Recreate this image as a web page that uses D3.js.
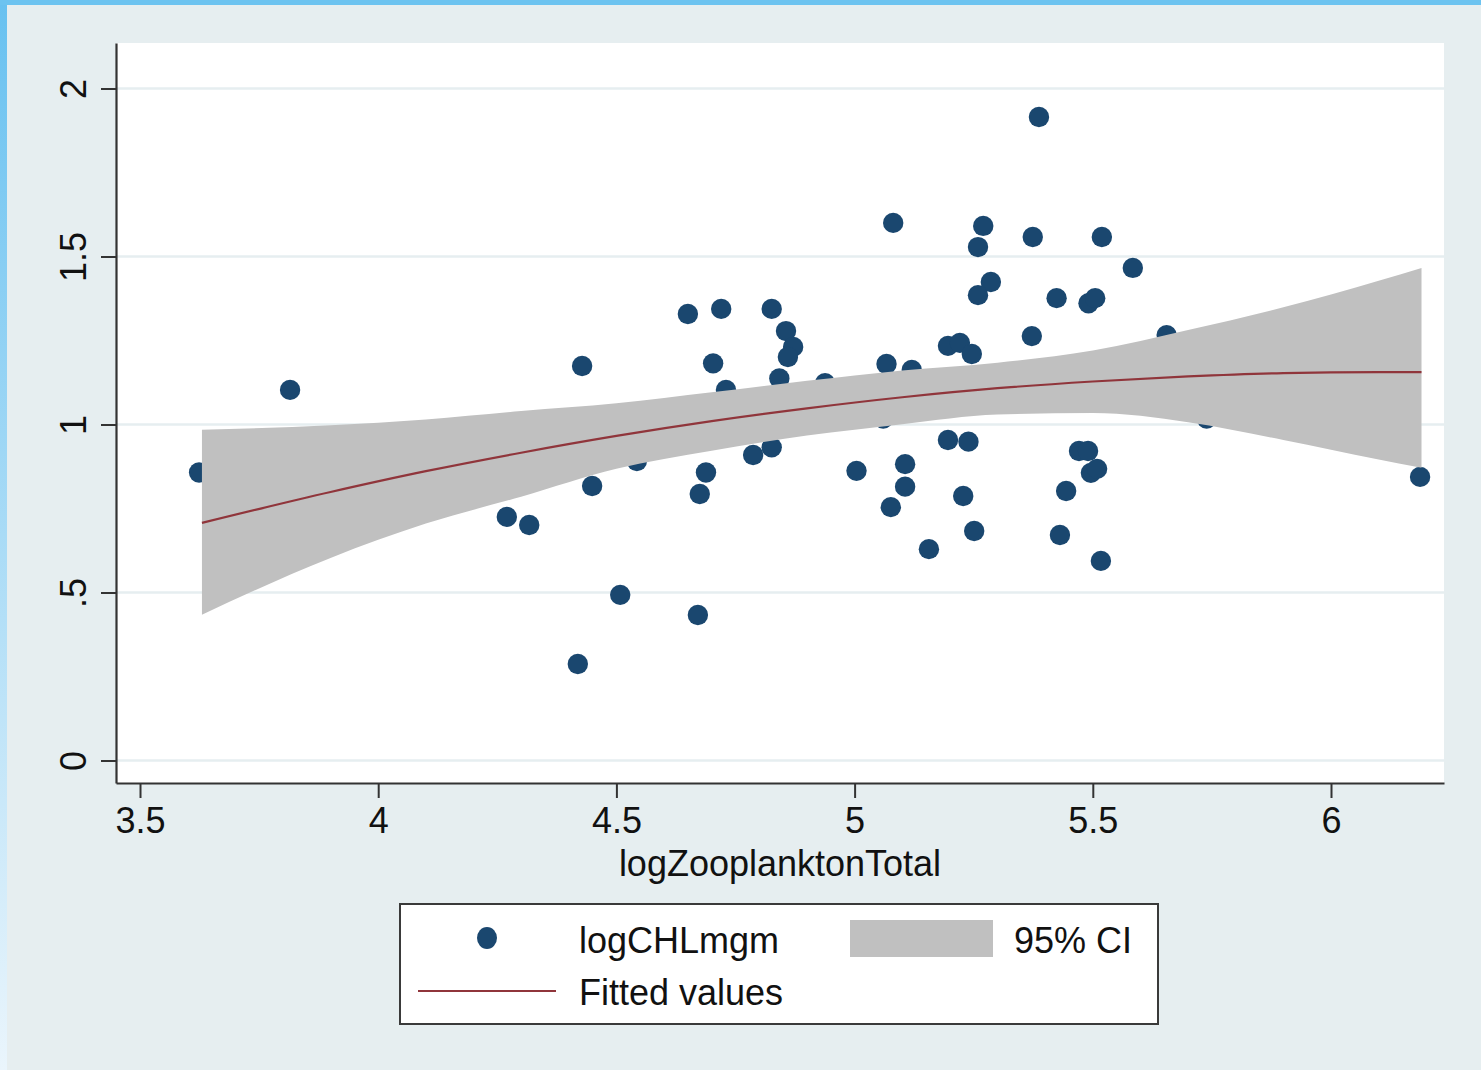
<!DOCTYPE html>
<html>
<head>
<meta charset="utf-8">
<script src="https://cdn.jsdelivr.net/npm/d3@7"></script>
<style>
  body { margin: 0; background: #e6eef0; }
  svg { display: block; }
  text { font-family: "Liberation Sans", Arial, Helvetica, sans-serif; fill: #111; }
</style>
</head>
<body>
<svg id="chart" width="1481" height="1070"></svg>
<script>
// Axis ticks
const xTicks = [3.5, 4, 4.5, 5, 5.5, 6];
const xTickLabels = ["3.5", "4", "4.5", "5", "5.5", "6"];
const yTicks = [0, 0.5, 1, 1.5, 2];
const yTickLabels = ["0", ".5", "1", "1.5", "2"];

// Observations: logZooplanktonTotal (x) vs logCHLmgm (y)
const zooplankton = [
  3.624, 3.815, 4.270, 4.317, 4.419, 4.428, 4.449, 4.508, 4.543, 4.650,
  4.671, 4.675, 4.688, 4.703, 4.720, 4.730, 4.787, 4.826, 4.826, 4.856,
  4.871, 4.860, 4.842, 4.938, 5.004, 5.067, 5.081, 5.120, 5.060, 5.106,
  5.106, 5.076, 5.156, 5.196, 5.221, 5.246, 5.196, 5.239, 5.228, 5.251,
  5.270, 5.259, 5.286, 5.259, 5.374, 5.424, 5.372, 5.387, 5.519, 5.584,
  5.491, 5.505, 5.471, 5.490, 5.496, 5.509, 5.444, 5.431, 5.517, 5.655,
  5.739, 6.187
];
const chlorophyll = [
  0.857, 1.103, 0.725, 0.701, 0.287, 1.174, 0.817, 0.493, 0.891, 1.329,
  0.433, 0.793, 0.857, 1.182, 1.344, 1.103, 0.909, 0.932, 1.344, 1.278,
  1.231, 1.201, 1.137, 1.123, 0.862, 1.180, 1.600, 1.162, 1.018, 0.882,
  0.815, 0.754, 0.629, 1.234, 1.243, 1.210, 0.954, 0.949, 0.787, 0.683,
  1.591, 1.528, 1.424, 1.385, 1.558, 1.376, 1.263, 1.915, 1.558, 1.466,
  1.361, 1.376, 0.921, 0.921, 0.856, 0.868, 0.802, 0.671, 0.594, 1.266,
  1.018, 0.844
];

// Quadratic fit with its 95% confidence band
const fitX     = [3.630, 3.90, 4.10, 4.30, 4.50, 4.70, 4.90, 5.10, 5.30, 5.50, 5.70, 5.90, 6.10, 6.190];
const fitY     = [0.707, 0.799, 0.861, 0.916, 0.966, 1.010, 1.048, 1.081, 1.108, 1.128, 1.143, 1.153, 1.156, 1.156];
const ciLower  = [0.434, 0.603, 0.705, 0.785, 0.868, 0.922, 0.967, 1.001, 1.030, 1.034, 1.007, 0.954, 0.896, 0.871];
const ciUpper  = [0.984, 0.998, 1.015, 1.040, 1.063, 1.096, 1.130, 1.161, 1.184, 1.220, 1.281, 1.349, 1.428, 1.466];

const svg = d3.select("#chart");
const W = 1481, H = 1070;
const plot = { left: 116, right: 1444, top: 43, bottom: 783 };

// Frame: light background with a blue edge on the top and left
const defs = svg.append("defs");
const grad = defs.append("linearGradient").attr("id", "edgeGrad")
  .attr("x1", 0).attr("y1", 0).attr("x2", 0).attr("y2", 1);
grad.append("stop").attr("offset", "0%").attr("stop-color", "#68c1f0");
grad.append("stop").attr("offset", "100%").attr("stop-color", "#eaf5fc");

svg.append("rect").attr("width", W).attr("height", H).attr("fill", "#e6eef0");
svg.append("rect").attr("x", 0).attr("y", 0).attr("width", 7).attr("height", H).attr("fill", "url(#edgeGrad)");
svg.append("rect").attr("x", 0).attr("y", 0).attr("width", W).attr("height", 5).attr("fill", "#6cc3f0");

// Scales
const x = d3.scaleLinear().domain([3.4496, 6.2372]).range([plot.left, plot.right]);
const y = d3.scaleLinear().domain([-0.067, 2.1354]).range([plot.bottom, plot.top]);

// Plot region
svg.append("rect")
  .attr("x", plot.left).attr("y", plot.top)
  .attr("width", plot.right - plot.left).attr("height", plot.bottom - plot.top)
  .attr("fill", "#ffffff");

// Horizontal grid lines
svg.append("g").selectAll("line").data(yTicks).join("line")
  .attr("x1", plot.left).attr("x2", plot.right)
  .attr("y1", d => y(d)).attr("y2", d => y(d))
  .attr("stroke", "#e6eef0").attr("stroke-width", 2.5);

// Scatter points
svg.append("g").selectAll("circle").data(zooplankton).join("circle")
  .attr("cx", d => x(d))
  .attr("cy", (d, i) => y(chlorophyll[i]))
  .attr("r", 10.2)
  .attr("fill", "#1a476f");

// Confidence band
const band = fitX.map((v, i) => ({ x: v, lo: ciLower[i], hi: ciUpper[i], fit: fitY[i] }));
svg.append("path").datum(band)
  .attr("d", d3.area().x(d => x(d.x)).y0(d => y(d.lo)).y1(d => y(d.hi)).curve(d3.curveMonotoneX))
  .attr("fill", "#c0c0c0");

// Fitted curve
svg.append("path").datum(band)
  .attr("d", d3.line().x(d => x(d.x)).y(d => y(d.fit)).curve(d3.curveMonotoneX))
  .attr("fill", "none").attr("stroke", "#90353b").attr("stroke-width", 2.2);

// Axes
const axisColor = "#333333";
const yAxis = svg.append("g").attr("transform", `translate(${plot.left},0)`)
  .call(d3.axisLeft(y).tickValues(yTicks).tickFormat((d, i) => yTickLabels[i]).tickSize(15).tickSizeOuter(0));
yAxis.selectAll("text")
  .attr("transform", "rotate(-90)")
  .attr("x", 0).attr("y", -30).attr("dy", 0)
  .attr("text-anchor", "middle");

const xAxis = svg.append("g").attr("transform", `translate(0,${plot.bottom})`)
  .call(d3.axisBottom(x).tickValues(xTicks).tickFormat((d, i) => xTickLabels[i]).tickSize(15).tickSizeOuter(0).tickPadding(9));

[xAxis, yAxis].forEach(g => {
  g.select(".domain").attr("stroke", axisColor).attr("stroke-width", 2.2);
  g.selectAll(".tick line").attr("stroke", axisColor).attr("stroke-width", 2);
  g.selectAll("text").style("font-size", "36px").attr("fill", "#111");
});

// Axis title
svg.append("text")
  .attr("x", (plot.left + plot.right) / 2).attr("y", 876)
  .attr("text-anchor", "middle").style("font-size", "36px")
  .text("logZooplanktonTotal");

// Legend
const lg = svg.append("g");
lg.append("rect").attr("x", 400).attr("y", 904).attr("width", 758).attr("height", 120)
  .attr("fill", "#ffffff").attr("stroke", "#3a3a3a").attr("stroke-width", 2);
lg.append("ellipse").attr("cx", 487).attr("cy", 938).attr("rx", 10).attr("ry", 11).attr("fill", "#1a476f");
lg.append("text").attr("x", 579).attr("y", 953).style("font-size", "36px").text("logCHLmgm");
lg.append("rect").attr("x", 850).attr("y", 920).attr("width", 143).attr("height", 37).attr("fill", "#c0c0c0");
lg.append("text").attr("x", 1014).attr("y", 953).style("font-size", "36px").text("95% CI");
lg.append("line").attr("x1", 418).attr("x2", 556).attr("y1", 991).attr("y2", 991)
  .attr("stroke", "#90353b").attr("stroke-width", 2.2);
lg.append("text").attr("x", 579).attr("y", 1005).style("font-size", "36px").text("Fitted values");
</script>
</body>
</html>
